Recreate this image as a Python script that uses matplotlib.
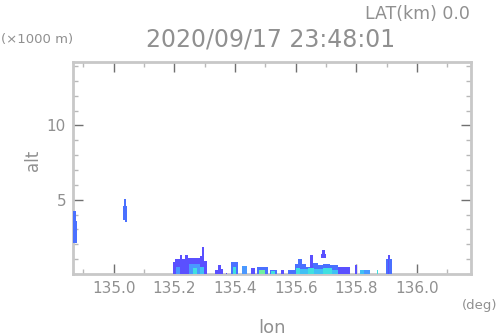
import numpy as np
import matplotlib
matplotlib.use("Agg")
import matplotlib.pyplot as plt
from matplotlib.colors import ListedColormap, BoundaryNorm
from matplotlib.ticker import MultipleLocator

# echo segments: lon range, altitude range (km), reflectivity class (dBZ)
lon0 = [134.866, 134.866, 135.030, 135.033, 135.036,
        135.195, 135.201, 135.218, 135.224, 135.234, 135.244, 135.271, 135.284, 135.290, 135.297,
        135.205, 135.250, 135.260, 135.285,
        135.333, 135.343, 135.353, 135.370,
        135.386, 135.392, 135.422, 135.452, 135.472, 135.480, 135.515, 135.520,
        135.551, 135.574,
        135.597, 135.607, 135.620, 135.633, 135.647, 135.657, 135.673, 135.690, 135.713, 135.739,
        135.600, 135.615, 135.640, 135.660, 135.690, 135.720,
        135.683, 135.688, 135.795, 135.812, 135.825, 135.868,
        135.898, 135.905, 135.909]
lon1 = [134.876, 134.879, 135.043, 135.040, 135.043,
        135.201, 135.218, 135.224, 135.234, 135.244, 135.271, 135.284, 135.290, 135.297, 135.307,
        135.218, 135.284, 135.275, 135.297,
        135.343, 135.353, 135.360, 135.373,
        135.409, 135.402, 135.439, 135.465, 135.508, 135.500, 135.538, 135.532,
        135.561, 135.597,
        135.607, 135.620, 135.633, 135.647, 135.657, 135.673, 135.690, 135.713, 135.739, 135.779,
        135.615, 135.640, 135.660, 135.690, 135.720, 135.739,
        135.700, 135.698, 135.802, 135.825, 135.845, 135.871,
        135.905, 135.911, 135.917]
alt0 = [3.6, 2.1, 3.65, 4.6, 3.5,
        0.0, 0.0, 0.0, 0.0, 0.0, 0.0, 0.0, 0.0, 0.0, 0.0,
        0.0, 0.0, 0.0, 0.0,
        0.0, 0.0, 0.0, 0.0,
        0.0, 0.0, 0.0, 0.0, 0.0, 0.0, 0.0, 0.0,
        0.0, 0.0,
        0.0, 0.0, 0.0, 0.0, 0.0, 0.0, 0.0, 0.0, 0.0, 0.0,
        0.0, 0.0, 0.0, 0.0, 0.0, 0.0,
        1.1, 1.35, 0.0, 0.0, 0.0, 0.0,
        0.0, 0.0, 0.0]
alt1 = [4.25, 3.6, 4.6, 5.05, 3.65,
        0.8, 1.0, 1.3, 1.0, 1.3, 1.05, 1.1, 1.2, 1.8, 0.9,
        0.5, 0.7, 0.4, 0.5,
        0.3, 0.6, 0.35, 0.1,
        0.8, 0.5, 0.55, 0.4, 0.45, 0.3, 0.3, 0.2,
        0.3, 0.3,
        0.65, 1.0, 0.7, 0.45, 1.3, 0.75, 0.6, 0.7, 0.6, 0.5,
        0.4, 0.35, 0.4, 0.35, 0.4, 0.3,
        1.35, 1.6, 0.6, 0.3, 0.25, 0.3,
        1.0, 1.3, 1.0]
dbz = [12, 12, 12, 12, 12,
       7, 7, 7, 7, 7, 7, 7, 7, 7, 7,
       17, 17, 27, 22,
       7, 7, 7, 7,
       12, 27, 17, 7, 12, 32, 12, 27,
       7, 12,
       12, 12, 12, 12, 7, 12, 12, 12, 12, 7,
       27, 22, 27, 22, 27, 22,
       7, 7, 7, 22, 17, 27,
       12, 7, 12]

colors = ['#5a50ff', '#4a70ff', '#4a98ff', '#40c0f4', '#40e0e0', '#70f0a0']
bounds = [5, 10, 15, 20, 25, 30, 35]
cmap = ListedColormap(colors)
norm = BoundaryNorm(bounds, cmap.N)

gray = '#909090'
fig = plt.figure(figsize=(4.98, 3.36), dpi=100)
ax = fig.add_axes([0.1466, 0.1845, 0.7992, 0.631])

lon0 = np.array(lon0)
lon1 = np.array(lon1)
alt0 = np.array(alt0)
alt1 = np.array(alt1)
ax.bar(lon0, alt1 - alt0, width=lon1 - lon0, bottom=alt0, align='edge',
       color=cmap(norm(np.array(dbz))), linewidth=0, zorder=3)

ax.set_xlim(134.866, 136.178)
ax.set_ylim(0, 14.27)
ax.xaxis.set_minor_locator(MultipleLocator(0.1))
ax.yaxis.set_minor_locator(MultipleLocator(1))
ax.set_yticks([5, 10])
ax.set_xticks([135.0, 135.2, 135.4, 135.6, 135.8, 136.0])
ax.set_xticklabels(['135.0', '135.2', '135.4', '135.6', '135.8', '136.0'])
ax.tick_params(which='both', direction='in', top=True, right=True,
               labelcolor=gray, labelsize=11, width=1)
ax.tick_params(which='major', length=7, pad=5, color='#707070')
ax.tick_params(which='minor', length=3.5, color='#b8b8b8')
for s in ax.spines.values():
    s.set_color('#c8c8c8')
    s.set_linewidth(2)

fig.text(0.5442, 0.881, '2020/09/17 23:48:01', color=gray, fontsize=17, ha='center', va='center')
fig.text(0.944, 0.958, 'LAT(km) 0.0', color=gray, fontsize=12.5, ha='right', va='center')
fig.text(0.002, 0.881, '(\u00d71000 m)', color=gray, fontsize=9.5, ha='left', va='center')
fig.text(0.999, 0.09, '(deg)', color=gray, fontsize=9.5, ha='right', va='center')
fig.text(0.546, 0.024, 'lon', color=gray, fontsize=13, ha='center', va='center')
fig.text(0.066, 0.524, 'alt', color=gray, fontsize=12, ha='center', va='center', rotation=90)

fig.savefig('out.png', dpi=100)
